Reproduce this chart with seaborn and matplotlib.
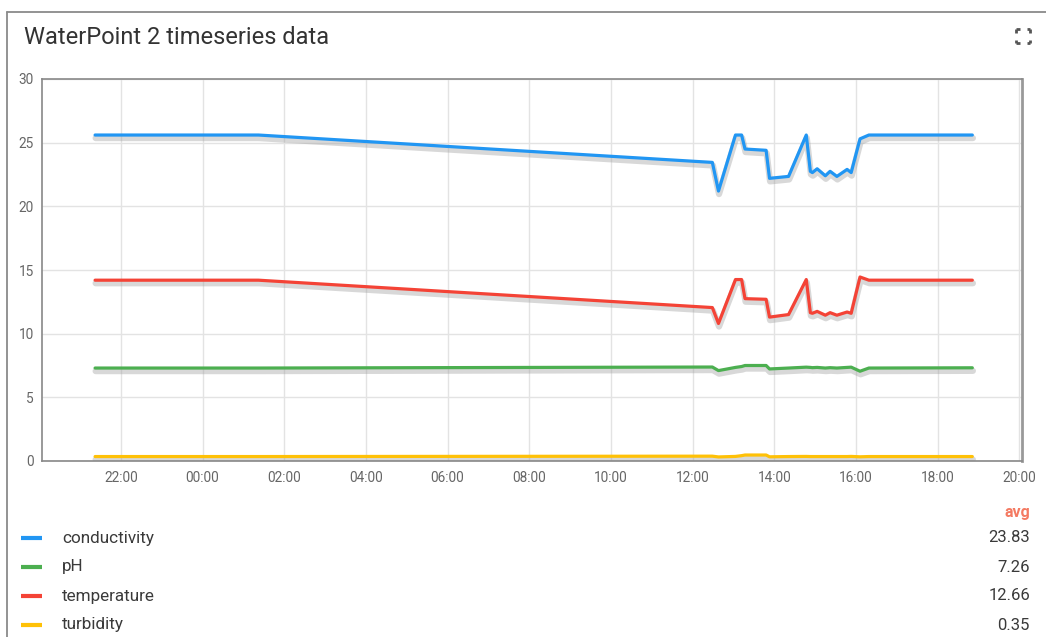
import pandas as pd
import matplotlib
matplotlib.use('Agg')
import matplotlib.pyplot as plt
import matplotlib.dates as mdates
import matplotlib.patheffects as pe
from matplotlib.lines import Line2D
import seaborn as sns

# data (readings per timestamp)
times = ["2020-01-01 21:22", "2020-01-02 01:22", "2020-01-02 12:29", "2020-01-02 12:38",
         "2020-01-02 13:03", "2020-01-02 13:12", "2020-01-02 13:17", "2020-01-02 13:48",
         "2020-01-02 13:53", "2020-01-02 14:21", "2020-01-02 14:47", "2020-01-02 14:53",
         "2020-01-02 14:56", "2020-01-02 15:03", "2020-01-02 15:15", "2020-01-02 15:22",
         "2020-01-02 15:32", "2020-01-02 15:47", "2020-01-02 15:53", "2020-01-02 16:06",
         "2020-01-02 16:19", "2020-01-02 18:51"]
conductivity = [25.6, 25.6, 23.45, 21.2, 25.6, 25.6, 24.5, 24.4, 22.2, 22.35, 25.6,
                22.75, 22.65, 22.95, 22.4, 22.75, 22.35, 22.9, 22.65, 25.3, 25.6, 25.6]
ph = [7.3, 7.3, 7.38, 7.1, 7.35, 7.42, 7.5, 7.5, 7.23, 7.3, 7.37,
      7.35, 7.33, 7.35, 7.3, 7.33, 7.3, 7.35, 7.37, 7.05, 7.3, 7.32]
temperature = [14.2, 14.2, 12.05, 10.8, 14.25, 14.25, 12.75, 12.7, 11.3, 11.5, 14.25,
               11.65, 11.6, 11.75, 11.45, 11.65, 11.45, 11.7, 11.6, 14.45, 14.2, 14.2]
turbidity = [0.35, 0.35, 0.38, 0.32, 0.36, 0.42, 0.47, 0.47, 0.33, 0.35, 0.36,
             0.35, 0.35, 0.35, 0.35, 0.35, 0.35, 0.35, 0.36, 0.33, 0.35, 0.35]

series = ["conductivity", "pH", "temperature", "turbidity"]
averages = ["23.83", "7.26", "12.66", "0.35"]
colors = ["#2196f3", "#4caf50", "#f44336", "#ffc107"]

df = pd.DataFrame({"time": pd.to_datetime(times), "conductivity": conductivity,
                   "pH": ph, "temperature": temperature, "turbidity": turbidity})
long_df = df.melt(id_vars="time", var_name="series", value_name="value")

sns.set_theme(style="white")
plt.rcParams['font.family'] = ['Roboto', 'DejaVu Sans']

fig = plt.figure(figsize=(10.46, 6.37), dpi=100)
ax = fig.add_axes([42 / 1046, 1 - 461 / 637, (1022 - 42) / 1046, (461 - 79) / 637])

shadow = [pe.SimpleLineShadow(offset=(0.4, -2.2), shadow_color="#9e9e9e", alpha=0.4, linewidth=4.5),
          pe.Normal()]
sns.lineplot(data=long_df, x="time", y="value", hue="series", hue_order=series,
             palette=colors, linewidth=2.3, legend=False, ax=ax, path_effects=shadow)

ax.set_xlim(pd.Timestamp("2020-01-01 20:04"), pd.Timestamp("2020-01-02 20:04"))
ax.set_ylim(0, 30)
ax.set_yticks(range(0, 31, 5))
ax.xaxis.set_major_locator(mdates.HourLocator(byhour=range(0, 24, 2)))
ax.xaxis.set_major_formatter(mdates.DateFormatter("%H:%M"))
ax.set_xlabel("")
ax.set_ylabel("")
ax.grid(True, color="#e3e3e3", linewidth=1)
ax.tick_params(length=0, labelsize=9.8, colors="#666666")
ax.tick_params(axis="y", pad=6)
ax.tick_params(axis="x", pad=7)
for side, sp in ax.spines.items():
    sp.set_visible(True)
    sp.set_color("#888888")
    sp.set_linewidth(1.2)
ax.spines["right"].set_linewidth(2)
ax.spines["right"].set_color("#999999")

# card border
fig.add_artist(Line2D([7 / 1046, 1], [1 - 11.5 / 637, 1 - 11.5 / 637], color="#8a8a8a", lw=1.3))
fig.add_artist(Line2D([7 / 1046, 7 / 1046], [0, 1 - 11.5 / 637], color="#8a8a8a", lw=1.3))

fig.text(24 / 1046, 1 - 37 / 637, "WaterPoint 2 timeseries data", fontsize=17,
         color="#333333", va="center", ha="left")

# fullscreen icon
cx, cy, s, a = 1023, 36, 7, 3.5
for dx in (-1, 1):
    for dy in (-1, 1):
        x0, y0 = cx + dx * s, cy + dy * s
        fig.add_artist(Line2D([x0 / 1046, (x0 - dx * a) / 1046], [1 - y0 / 637, 1 - y0 / 637],
                              color="#555555", lw=2, solid_capstyle="butt"))
        fig.add_artist(Line2D([x0 / 1046, x0 / 1046], [1 - y0 / 637, 1 - (y0 - dy * a) / 637],
                              color="#555555", lw=2, solid_capstyle="butt"))

# legend table
fig.text(1030 / 1046, 1 - 512 / 637, "avg", fontsize=11.5, fontweight="bold",
         color="#f47a62", ha="right", va="center")
rows_y = [538, 567, 596, 625]
for name, avg, col, yy in zip(series, averages, colors, rows_y):
    fig.add_artist(Line2D([21 / 1046, 42 / 1046], [1 - yy / 637, 1 - yy / 637], color=col, lw=3,
                          solid_capstyle="butt"))
    fig.text(62 / 1046, 1 - yy / 637, name, fontsize=12.3, color="#3a3a3a", ha="left", va="center")
    fig.text(1030 / 1046, 1 - yy / 637, avg, fontsize=12, color="#3a3a3a", ha="right", va="center")

fig.savefig("out.png", dpi=100)
